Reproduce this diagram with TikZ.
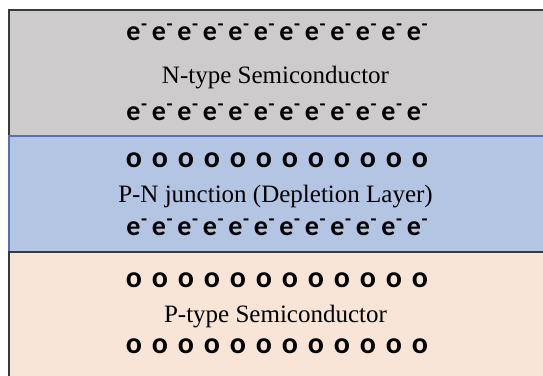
\documentclass[tikz,border=0pt]{standalone}
\usepackage{fontspec}
\setmainfont{Liberation Serif}
\newfontfamily\dotfont{Carlito}
\definecolor{ngray}{HTML}{CDCBCC}
\definecolor{jblue}{HTML}{B4C4E3}
\definecolor{ppeach}{HTML}{F8E5D7}
\definecolor{edgedark}{HTML}{3A3A3A}
\definecolor{edgeblue}{HTML}{5672AA}
\tikzset{
  band/.style={line width=1.5pt},
  electron/.style={inner sep=0pt, anchor=base, font=\dotfont\bfseries\fontsize{28}{30}\selectfont},
  hole/.style={inner sep=0pt, anchor=base, font=\dotfont\bfseries\fontsize{30}{32}\selectfont},
  label/.style={inner sep=0pt, anchor=base, font=\fontsize{25}{28}\selectfont},
}
\newcommand{\elec}{e\kern0.5pt\raisebox{0pt}{\textsuperscript{-}}}
\begin{document}
\begin{tikzpicture}[x=1pt,y=1pt]
\useasboundingbox (0,0) rectangle (543,-375);
\fill[white] (0,0) rectangle (543,-375);
% bands
\draw[band, draw=edgedark, fill=ngray] (9,-10) rectangle (580,-136);
\draw[band, draw=edgeblue, fill=jblue] (9,-136) rectangle (580,-252);
\draw[band, draw=edgedark, fill=ppeach] (9,-252) rectangle (580,-420);
% N-type
\foreach \i in {0,...,11} \node[electron] (na\i) at ({137+25.5*\i},-40) {\elec};
\node[label] (nlabel) at (275.5,-83) {N-type Semiconductor};
\foreach \i in {0,...,11} \node[electron] (nb\i) at ({137+25.5*\i},-120) {\elec};
% junction
\foreach \i in {0,...,11} \node[hole] (ja\i) at ({134+26*\i},-167) {o};
\node[label] (jlabel) at (275.5,-202) {P-N junction (Depletion Layer)};
\foreach \i in {0,...,11} \node[electron] (jb\i) at ({137+25.5*\i},-235) {\elec};
% P-type
\foreach \i in {0,...,11} \node[hole] (pa\i) at ({134+26*\i},-287) {o};
\node[label] (plabel) at (275.5,-322) {P-type Semiconductor};
\foreach \i in {0,...,11} \node[hole] (pb\i) at ({134+26*\i},-353) {o};
\end{tikzpicture}
\end{document}
